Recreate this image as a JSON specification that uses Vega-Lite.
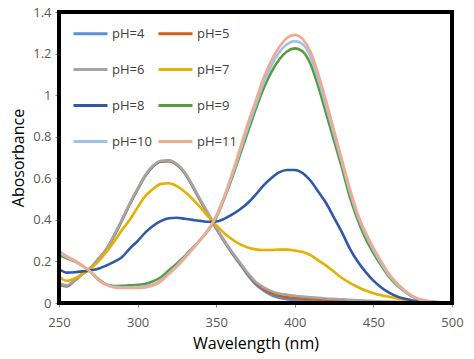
{
  "$schema": "https://vega.github.io/schema/vega-lite/v6.json",
  "width": 393,
  "height": 291,
  "autosize": {"type": "none"},
  "padding": {"left": 59, "top": 12, "right": 22, "bottom": 56},
  "background": "white",
  "config": {
    "font": "Open Sans",
    "view": {"stroke": "#202020", "strokeWidth": 4},
    "axis": {"grid": false, "domain": false, "labelFont": "Open Sans", "labelFontSize": 13, "labelColor": "#595959", "tickColor": "#888888", "tickSize": 4, "labelFlush": false, "titleFont": "Open Sans", "titleFontSize": 16, "titleFontWeight": "normal", "titleColor": "#000000"},
    "legend": {"labelFont": "Open Sans"}
  },
  "datasets": {
    "frame": [{"x1": 250, "x2": 500, "y1": 0, "y2": 1.4}],
    "spectra": [
{"w":250,"s":"pH=4","a":0.088},{"w":255,"s":"pH=4","a":0.08},{"w":260,"s":"pH=4","a":0.108},{"w":265,"s":"pH=4","a":0.14},{"w":270,"s":"pH=4","a":0.168},{"w":275,"s":"pH=4","a":0.21},{"w":280,"s":"pH=4","a":0.256},{"w":285,"s":"pH=4","a":0.322},{"w":290,"s":"pH=4","a":0.396},{"w":295,"s":"pH=4","a":0.474},{"w":300,"s":"pH=4","a":0.546},{"w":305,"s":"pH=4","a":0.612},{"w":310,"s":"pH=4","a":0.658},{"w":315,"s":"pH=4","a":0.68},{"w":320,"s":"pH=4","a":0.682},{"w":325,"s":"pH=4","a":0.664},{"w":330,"s":"pH=4","a":0.624},{"w":335,"s":"pH=4","a":0.56},{"w":340,"s":"pH=4","a":0.49},{"w":345,"s":"pH=4","a":0.425},{"w":350,"s":"pH=4","a":0.358},{"w":355,"s":"pH=4","a":0.297},{"w":360,"s":"pH=4","a":0.24},{"w":365,"s":"pH=4","a":0.188},{"w":370,"s":"pH=4","a":0.135},{"w":375,"s":"pH=4","a":0.09},{"w":380,"s":"pH=4","a":0.06},{"w":385,"s":"pH=4","a":0.038},{"w":390,"s":"pH=4","a":0.025},{"w":395,"s":"pH=4","a":0.018},{"w":400,"s":"pH=4","a":0.014},{"w":405,"s":"pH=4","a":0.012},{"w":410,"s":"pH=4","a":0.01},{"w":415,"s":"pH=4","a":0.009},{"w":420,"s":"pH=4","a":0.008},{"w":425,"s":"pH=4","a":0.007},{"w":430,"s":"pH=4","a":0.006},{"w":435,"s":"pH=4","a":0.005},{"w":440,"s":"pH=4","a":0.004},{"w":445,"s":"pH=4","a":0.004},{"w":450,"s":"pH=4","a":0.003},{"w":455,"s":"pH=4","a":0.003},{"w":460,"s":"pH=4","a":0.003},{"w":465,"s":"pH=4","a":0.002},{"w":470,"s":"pH=4","a":0.002},{"w":475,"s":"pH=4","a":0.002},{"w":480,"s":"pH=4","a":0.002},{"w":485,"s":"pH=4","a":0.002},{"w":490,"s":"pH=4","a":0.002},{"w":495,"s":"pH=4","a":0.002},{"w":500,"s":"pH=4","a":0.002},
{"w":250,"s":"pH=5","a":0.09},{"w":255,"s":"pH=5","a":0.082},{"w":260,"s":"pH=5","a":0.11},{"w":265,"s":"pH=5","a":0.141},{"w":270,"s":"pH=5","a":0.169},{"w":275,"s":"pH=5","a":0.211},{"w":280,"s":"pH=5","a":0.257},{"w":285,"s":"pH=5","a":0.323},{"w":290,"s":"pH=5","a":0.398},{"w":295,"s":"pH=5","a":0.476},{"w":300,"s":"pH=5","a":0.548},{"w":305,"s":"pH=5","a":0.614},{"w":310,"s":"pH=5","a":0.66},{"w":315,"s":"pH=5","a":0.682},{"w":320,"s":"pH=5","a":0.684},{"w":325,"s":"pH=5","a":0.666},{"w":330,"s":"pH=5","a":0.626},{"w":335,"s":"pH=5","a":0.562},{"w":340,"s":"pH=5","a":0.492},{"w":345,"s":"pH=5","a":0.428},{"w":350,"s":"pH=5","a":0.36},{"w":355,"s":"pH=5","a":0.3},{"w":360,"s":"pH=5","a":0.243},{"w":365,"s":"pH=5","a":0.192},{"w":370,"s":"pH=5","a":0.14},{"w":375,"s":"pH=5","a":0.097},{"w":380,"s":"pH=5","a":0.068},{"w":385,"s":"pH=5","a":0.047},{"w":390,"s":"pH=5","a":0.035},{"w":395,"s":"pH=5","a":0.028},{"w":400,"s":"pH=5","a":0.024},{"w":405,"s":"pH=5","a":0.021},{"w":410,"s":"pH=5","a":0.019},{"w":415,"s":"pH=5","a":0.017},{"w":420,"s":"pH=5","a":0.015},{"w":425,"s":"pH=5","a":0.013},{"w":430,"s":"pH=5","a":0.012},{"w":435,"s":"pH=5","a":0.01},{"w":440,"s":"pH=5","a":0.009},{"w":445,"s":"pH=5","a":0.008},{"w":450,"s":"pH=5","a":0.007},{"w":455,"s":"pH=5","a":0.006},{"w":460,"s":"pH=5","a":0.005},{"w":465,"s":"pH=5","a":0.004},{"w":470,"s":"pH=5","a":0.004},{"w":475,"s":"pH=5","a":0.003},{"w":480,"s":"pH=5","a":0.003},{"w":485,"s":"pH=5","a":0.003},{"w":490,"s":"pH=5","a":0.002},{"w":495,"s":"pH=5","a":0.002},{"w":500,"s":"pH=5","a":0.002},
{"w":250,"s":"pH=6","a":0.095},{"w":255,"s":"pH=6","a":0.085},{"w":260,"s":"pH=6","a":0.112},{"w":265,"s":"pH=6","a":0.142},{"w":270,"s":"pH=6","a":0.17},{"w":275,"s":"pH=6","a":0.212},{"w":280,"s":"pH=6","a":0.258},{"w":285,"s":"pH=6","a":0.325},{"w":290,"s":"pH=6","a":0.4},{"w":295,"s":"pH=6","a":0.478},{"w":300,"s":"pH=6","a":0.55},{"w":305,"s":"pH=6","a":0.617},{"w":310,"s":"pH=6","a":0.662},{"w":315,"s":"pH=6","a":0.684},{"w":320,"s":"pH=6","a":0.686},{"w":325,"s":"pH=6","a":0.668},{"w":330,"s":"pH=6","a":0.628},{"w":335,"s":"pH=6","a":0.565},{"w":340,"s":"pH=6","a":0.495},{"w":345,"s":"pH=6","a":0.43},{"w":350,"s":"pH=6","a":0.362},{"w":355,"s":"pH=6","a":0.302},{"w":360,"s":"pH=6","a":0.246},{"w":365,"s":"pH=6","a":0.196},{"w":370,"s":"pH=6","a":0.145},{"w":375,"s":"pH=6","a":0.103},{"w":380,"s":"pH=6","a":0.076},{"w":385,"s":"pH=6","a":0.057},{"w":390,"s":"pH=6","a":0.046},{"w":395,"s":"pH=6","a":0.04},{"w":400,"s":"pH=6","a":0.035},{"w":405,"s":"pH=6","a":0.031},{"w":410,"s":"pH=6","a":0.028},{"w":415,"s":"pH=6","a":0.025},{"w":420,"s":"pH=6","a":0.022},{"w":425,"s":"pH=6","a":0.02},{"w":430,"s":"pH=6","a":0.018},{"w":435,"s":"pH=6","a":0.015},{"w":440,"s":"pH=6","a":0.013},{"w":445,"s":"pH=6","a":0.011},{"w":450,"s":"pH=6","a":0.009},{"w":455,"s":"pH=6","a":0.007},{"w":460,"s":"pH=6","a":0.006},{"w":465,"s":"pH=6","a":0.005},{"w":470,"s":"pH=6","a":0.004},{"w":475,"s":"pH=6","a":0.004},{"w":480,"s":"pH=6","a":0.003},{"w":485,"s":"pH=6","a":0.003},{"w":490,"s":"pH=6","a":0.002},{"w":495,"s":"pH=6","a":0.002},{"w":500,"s":"pH=6","a":0.002},
{"w":250,"s":"pH=7","a":0.127},{"w":255,"s":"pH=7","a":0.107},{"w":260,"s":"pH=7","a":0.118},{"w":265,"s":"pH=7","a":0.14},{"w":270,"s":"pH=7","a":0.165},{"w":275,"s":"pH=7","a":0.2},{"w":280,"s":"pH=7","a":0.245},{"w":285,"s":"pH=7","a":0.295},{"w":290,"s":"pH=7","a":0.35},{"w":295,"s":"pH=7","a":0.4},{"w":300,"s":"pH=7","a":0.46},{"w":305,"s":"pH=7","a":0.515},{"w":310,"s":"pH=7","a":0.55},{"w":315,"s":"pH=7","a":0.573},{"w":320,"s":"pH=7","a":0.576},{"w":325,"s":"pH=7","a":0.562},{"w":330,"s":"pH=7","a":0.535},{"w":335,"s":"pH=7","a":0.5},{"w":340,"s":"pH=7","a":0.46},{"w":345,"s":"pH=7","a":0.415},{"w":350,"s":"pH=7","a":0.375},{"w":355,"s":"pH=7","a":0.337},{"w":360,"s":"pH=7","a":0.307},{"w":365,"s":"pH=7","a":0.283},{"w":370,"s":"pH=7","a":0.267},{"w":375,"s":"pH=7","a":0.258},{"w":380,"s":"pH=7","a":0.255},{"w":385,"s":"pH=7","a":0.255},{"w":390,"s":"pH=7","a":0.257},{"w":395,"s":"pH=7","a":0.257},{"w":400,"s":"pH=7","a":0.253},{"w":405,"s":"pH=7","a":0.245},{"w":410,"s":"pH=7","a":0.23},{"w":415,"s":"pH=7","a":0.205},{"w":420,"s":"pH=7","a":0.18},{"w":425,"s":"pH=7","a":0.15},{"w":430,"s":"pH=7","a":0.12},{"w":435,"s":"pH=7","a":0.097},{"w":440,"s":"pH=7","a":0.077},{"w":445,"s":"pH=7","a":0.06},{"w":450,"s":"pH=7","a":0.047},{"w":455,"s":"pH=7","a":0.037},{"w":460,"s":"pH=7","a":0.03},{"w":465,"s":"pH=7","a":0.022},{"w":470,"s":"pH=7","a":0.015},{"w":475,"s":"pH=7","a":0.01},{"w":480,"s":"pH=7","a":0.006},{"w":485,"s":"pH=7","a":0.004},{"w":490,"s":"pH=7","a":0.003},{"w":495,"s":"pH=7","a":0.002},{"w":500,"s":"pH=7","a":0.002},
{"w":250,"s":"pH=8","a":0.162},{"w":255,"s":"pH=8","a":0.146},{"w":260,"s":"pH=8","a":0.148},{"w":265,"s":"pH=8","a":0.152},{"w":270,"s":"pH=8","a":0.157},{"w":275,"s":"pH=8","a":0.165},{"w":280,"s":"pH=8","a":0.18},{"w":285,"s":"pH=8","a":0.198},{"w":290,"s":"pH=8","a":0.22},{"w":295,"s":"pH=8","a":0.262},{"w":300,"s":"pH=8","a":0.298},{"w":305,"s":"pH=8","a":0.34},{"w":310,"s":"pH=8","a":0.372},{"w":315,"s":"pH=8","a":0.395},{"w":320,"s":"pH=8","a":0.408},{"w":325,"s":"pH=8","a":0.41},{"w":330,"s":"pH=8","a":0.405},{"w":335,"s":"pH=8","a":0.4},{"w":340,"s":"pH=8","a":0.395},{"w":345,"s":"pH=8","a":0.391},{"w":350,"s":"pH=8","a":0.392},{"w":355,"s":"pH=8","a":0.405},{"w":360,"s":"pH=8","a":0.425},{"w":365,"s":"pH=8","a":0.45},{"w":370,"s":"pH=8","a":0.48},{"w":375,"s":"pH=8","a":0.52},{"w":380,"s":"pH=8","a":0.565},{"w":385,"s":"pH=8","a":0.6},{"w":390,"s":"pH=8","a":0.628},{"w":395,"s":"pH=8","a":0.64},{"w":400,"s":"pH=8","a":0.64},{"w":405,"s":"pH=8","a":0.625},{"w":410,"s":"pH=8","a":0.588},{"w":415,"s":"pH=8","a":0.535},{"w":420,"s":"pH=8","a":0.48},{"w":425,"s":"pH=8","a":0.41},{"w":430,"s":"pH=8","a":0.34},{"w":435,"s":"pH=8","a":0.262},{"w":440,"s":"pH=8","a":0.2},{"w":445,"s":"pH=8","a":0.15},{"w":450,"s":"pH=8","a":0.108},{"w":455,"s":"pH=8","a":0.075},{"w":460,"s":"pH=8","a":0.05},{"w":465,"s":"pH=8","a":0.032},{"w":470,"s":"pH=8","a":0.02},{"w":475,"s":"pH=8","a":0.012},{"w":480,"s":"pH=8","a":0.007},{"w":485,"s":"pH=8","a":0.004},{"w":490,"s":"pH=8","a":0.003},{"w":495,"s":"pH=8","a":0.002},{"w":500,"s":"pH=8","a":0.002},
{"w":250,"s":"pH=9","a":0.23},{"w":255,"s":"pH=9","a":0.215},{"w":260,"s":"pH=9","a":0.2},{"w":265,"s":"pH=9","a":0.178},{"w":270,"s":"pH=9","a":0.15},{"w":275,"s":"pH=9","a":0.115},{"w":280,"s":"pH=9","a":0.09},{"w":285,"s":"pH=9","a":0.082},{"w":290,"s":"pH=9","a":0.083},{"w":295,"s":"pH=9","a":0.085},{"w":300,"s":"pH=9","a":0.087},{"w":305,"s":"pH=9","a":0.092},{"w":310,"s":"pH=9","a":0.105},{"w":315,"s":"pH=9","a":0.125},{"w":320,"s":"pH=9","a":0.158},{"w":325,"s":"pH=9","a":0.19},{"w":330,"s":"pH=9","a":0.225},{"w":335,"s":"pH=9","a":0.265},{"w":340,"s":"pH=9","a":0.305},{"w":345,"s":"pH=9","a":0.35},{"w":350,"s":"pH=9","a":0.41},{"w":355,"s":"pH=9","a":0.5},{"w":360,"s":"pH=9","a":0.6},{"w":365,"s":"pH=9","a":0.71},{"w":370,"s":"pH=9","a":0.82},{"w":375,"s":"pH=9","a":0.93},{"w":380,"s":"pH=9","a":1.03},{"w":385,"s":"pH=9","a":1.11},{"w":390,"s":"pH=9","a":1.17},{"w":395,"s":"pH=9","a":1.21},{"w":400,"s":"pH=9","a":1.225},{"w":405,"s":"pH=9","a":1.21},{"w":410,"s":"pH=9","a":1.15},{"w":415,"s":"pH=9","a":1.04},{"w":420,"s":"pH=9","a":0.91},{"w":425,"s":"pH=9","a":0.78},{"w":430,"s":"pH=9","a":0.65},{"w":435,"s":"pH=9","a":0.51},{"w":440,"s":"pH=9","a":0.4},{"w":445,"s":"pH=9","a":0.31},{"w":450,"s":"pH=9","a":0.24},{"w":455,"s":"pH=9","a":0.18},{"w":460,"s":"pH=9","a":0.125},{"w":465,"s":"pH=9","a":0.085},{"w":470,"s":"pH=9","a":0.055},{"w":475,"s":"pH=9","a":0.03},{"w":480,"s":"pH=9","a":0.015},{"w":485,"s":"pH=9","a":0.008},{"w":490,"s":"pH=9","a":0.005},{"w":495,"s":"pH=9","a":0.003},{"w":500,"s":"pH=9","a":0.002},
{"w":250,"s":"pH=10","a":0.24},{"w":255,"s":"pH=10","a":0.22},{"w":260,"s":"pH=10","a":0.2},{"w":265,"s":"pH=10","a":0.178},{"w":270,"s":"pH=10","a":0.15},{"w":275,"s":"pH=10","a":0.112},{"w":280,"s":"pH=10","a":0.089},{"w":285,"s":"pH=10","a":0.078},{"w":290,"s":"pH=10","a":0.076},{"w":295,"s":"pH=10","a":0.076},{"w":300,"s":"pH=10","a":0.077},{"w":305,"s":"pH=10","a":0.08},{"w":310,"s":"pH=10","a":0.09},{"w":315,"s":"pH=10","a":0.11},{"w":320,"s":"pH=10","a":0.145},{"w":325,"s":"pH=10","a":0.18},{"w":330,"s":"pH=10","a":0.22},{"w":335,"s":"pH=10","a":0.262},{"w":340,"s":"pH=10","a":0.305},{"w":345,"s":"pH=10","a":0.352},{"w":350,"s":"pH=10","a":0.415},{"w":355,"s":"pH=10","a":0.505},{"w":360,"s":"pH=10","a":0.61},{"w":365,"s":"pH=10","a":0.725},{"w":370,"s":"pH=10","a":0.84},{"w":375,"s":"pH=10","a":0.95},{"w":380,"s":"pH=10","a":1.055},{"w":385,"s":"pH=10","a":1.14},{"w":390,"s":"pH=10","a":1.205},{"w":395,"s":"pH=10","a":1.245},{"w":400,"s":"pH=10","a":1.26},{"w":405,"s":"pH=10","a":1.245},{"w":410,"s":"pH=10","a":1.185},{"w":415,"s":"pH=10","a":1.075},{"w":420,"s":"pH=10","a":0.945},{"w":425,"s":"pH=10","a":0.81},{"w":430,"s":"pH=10","a":0.675},{"w":435,"s":"pH=10","a":0.535},{"w":440,"s":"pH=10","a":0.42},{"w":445,"s":"pH=10","a":0.33},{"w":450,"s":"pH=10","a":0.255},{"w":455,"s":"pH=10","a":0.19},{"w":460,"s":"pH=10","a":0.132},{"w":465,"s":"pH=10","a":0.09},{"w":470,"s":"pH=10","a":0.057},{"w":475,"s":"pH=10","a":0.032},{"w":480,"s":"pH=10","a":0.016},{"w":485,"s":"pH=10","a":0.008},{"w":490,"s":"pH=10","a":0.005},{"w":495,"s":"pH=10","a":0.003},{"w":500,"s":"pH=10","a":0.002},
{"w":250,"s":"pH=11","a":0.25},{"w":255,"s":"pH=11","a":0.225},{"w":260,"s":"pH=11","a":0.205},{"w":265,"s":"pH=11","a":0.18},{"w":270,"s":"pH=11","a":0.15},{"w":275,"s":"pH=11","a":0.11},{"w":280,"s":"pH=11","a":0.088},{"w":285,"s":"pH=11","a":0.075},{"w":290,"s":"pH=11","a":0.072},{"w":295,"s":"pH=11","a":0.072},{"w":300,"s":"pH=11","a":0.072},{"w":305,"s":"pH=11","a":0.075},{"w":310,"s":"pH=11","a":0.085},{"w":315,"s":"pH=11","a":0.105},{"w":320,"s":"pH=11","a":0.14},{"w":325,"s":"pH=11","a":0.175},{"w":330,"s":"pH=11","a":0.215},{"w":335,"s":"pH=11","a":0.26},{"w":340,"s":"pH=11","a":0.305},{"w":345,"s":"pH=11","a":0.355},{"w":350,"s":"pH=11","a":0.42},{"w":355,"s":"pH=11","a":0.51},{"w":360,"s":"pH=11","a":0.62},{"w":365,"s":"pH=11","a":0.74},{"w":370,"s":"pH=11","a":0.86},{"w":375,"s":"pH=11","a":0.97},{"w":380,"s":"pH=11","a":1.08},{"w":385,"s":"pH=11","a":1.165},{"w":390,"s":"pH=11","a":1.23},{"w":395,"s":"pH=11","a":1.275},{"w":400,"s":"pH=11","a":1.29},{"w":405,"s":"pH=11","a":1.27},{"w":410,"s":"pH=11","a":1.21},{"w":415,"s":"pH=11","a":1.1},{"w":420,"s":"pH=11","a":0.97},{"w":425,"s":"pH=11","a":0.83},{"w":430,"s":"pH=11","a":0.69},{"w":435,"s":"pH=11","a":0.55},{"w":440,"s":"pH=11","a":0.43},{"w":445,"s":"pH=11","a":0.34},{"w":450,"s":"pH=11","a":0.265},{"w":455,"s":"pH=11","a":0.2},{"w":460,"s":"pH=11","a":0.14},{"w":465,"s":"pH=11","a":0.095},{"w":470,"s":"pH=11","a":0.06},{"w":475,"s":"pH=11","a":0.033},{"w":480,"s":"pH=11","a":0.017},{"w":485,"s":"pH=11","a":0.009},{"w":490,"s":"pH=11","a":0.005},{"w":495,"s":"pH=11","a":0.003},{"w":500,"s":"pH=11","a":0.002}
    ]
  },
  "layer": [
    {
      "data": {"name": "spectra"},
      "mark": {"type": "line", "interpolate": "monotone", "strokeWidth": 2.6, "clip": true},
      "encoding": {
        "x": {"field": "w", "type": "quantitative", "title": "Wavelength (nm)",
          "scale": {"domain": [250, 500], "nice": false, "zero": false},
          "axis": {"values": [250, 300, 350, 400, 450, 500], "labelPadding": 9, "titlePadding": 6}},
        "y": {"field": "a", "type": "quantitative", "title": "Abosorbance",
          "scale": {"domain": [0, 1.4], "nice": false},
          "axis": {"values": [0, 0.2, 0.4, 0.6, 0.8, 1, 1.2, 1.4], "format": "~g", "labelPadding": 4, "titlePadding": 6}},
        "color": {"field": "s", "type": "nominal",
          "scale": {"domain": ["pH=4", "pH=5", "pH=6", "pH=7", "pH=8", "pH=9", "pH=10", "pH=11"],
            "range": ["#5B8FCF", "#C8601C", "#A5A5A5", "#E5B100", "#2F58A8", "#5A9B3E", "#9DC3E6", "#F3A98F"]},
          "legend": {"title": null, "orient": "none", "legendX": 13, "legendY": 3, "columns": 2, "direction": "horizontal",
            "symbolType": "stroke", "symbolSize": 1156, "symbolStrokeWidth": 3, "labelFontSize": 13, "labelColor": "#404040",
            "labelOffset": 3, "rowPadding": 10, "columnPadding": 0}},
        "order": {"field": "w", "type": "quantitative"}
      }
    },
    {
      "data": {"name": "frame"},
      "mark": {"type": "rect", "filled": false, "stroke": "#000000", "strokeWidth": 4, "strokeOpacity": 1},
      "encoding": {
        "x": {"field": "x1", "type": "quantitative"},
        "x2": {"field": "x2"},
        "y": {"field": "y1", "type": "quantitative"},
        "y2": {"field": "y2"}
      }
    }
  ]
}
